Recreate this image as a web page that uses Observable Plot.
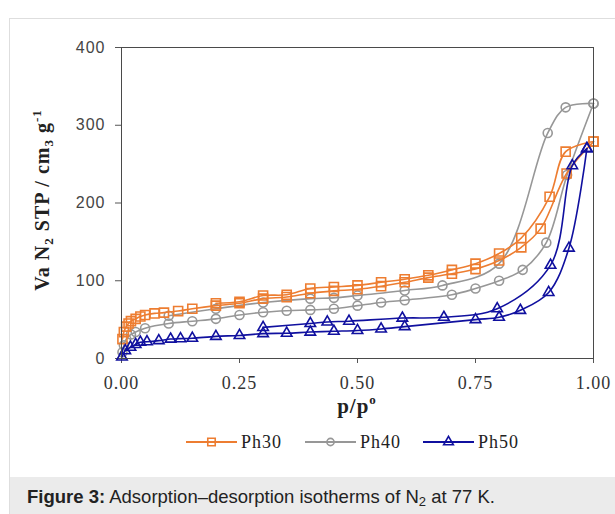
<!DOCTYPE html>
<html>
<head>
<meta charset="utf-8">
<script src="https://cdn.jsdelivr.net/npm/d3@7"></script>
<script src="https://cdn.jsdelivr.net/npm/@observablehq/plot@0.6"></script>
<style>
  html, body { margin: 0; padding: 0; background: #fff; }
  #wrap { position: relative; width: 615px; height: 514px; overflow: hidden; }
  #card { position: absolute; left: 9px; top: 18px; right: -2px; bottom: -2px; border-left: 1px solid #dedede; border-top: 1px solid #dedede; }
  #caption { position: absolute; left: 10px; top: 477px; width: 605px; height: 37px; background: #ebebeb; }
  #caption span.t { position: absolute; left: 17px; top: 9px; font-family: "Liberation Sans", Arial, sans-serif; font-size: 18.5px; color: #222; white-space: nowrap; }
  #chart { position: absolute; left: 0; top: 0; }
  .leg { position: absolute; top: 431px; height: 22px; display: flex; align-items: center; font-family: "Liberation Serif", serif; font-size: 18px; letter-spacing: 1px; color: #222; }
</style>
</head>
<body>
<div id="wrap">
  <div id="card"></div>
  <div id="chart"></div>
  <div id="legend"></div>
  <div id="caption"><span class="t"><b>Figure 3:</b> Adsorption–desorption isotherms of N<sub style="font-size:13px;vertical-align:-3px;line-height:0">2</sub> at 77 K.</span></div>
</div>
<script>
// ---- data ----
const seriesNames = ["Ph30", "Ph40", "Ph50"];
const xTicks = [0, 0.25, 0.5, 0.75, 1.0];
const yTicks = [0, 100, 200, 300, 400];

// Ph30 (squares)
const ph30AdsP = [0.002,0.005,0.01,0.015,0.02,0.03,0.04,0.05,0.07,0.09,0.12,0.15,0.2,0.25,0.3,0.35,0.4,0.45,0.5,0.55,0.6,0.65,0.7,0.75,0.8,0.847,0.888,0.943,1.0];
const ph30AdsV = [25,34,41,45,48,51,54,56,58,59,61,64,68,71,77,79,84,87,89,93,98,104,109,115,126,143,167,238,279];
const ph30DesP = [0.2,0.25,0.3,0.35,0.4,0.45,0.5,0.55,0.6,0.65,0.7,0.75,0.8,0.847,0.907,0.941,1.0];
const ph30DesV = [71,73,81,82,90,92,94,98,102,107,114,122,135,155,208,266,279];

// Ph40 (circles)
const ph40AdsP = [0.002,0.005,0.01,0.02,0.03,0.05,0.1,0.15,0.2,0.25,0.3,0.35,0.4,0.45,0.5,0.55,0.6,0.7,0.75,0.8,0.85,0.9,0.944,1.0];
const ph40AdsV = [8,17,25,31,34,39,45,48,51,56,59.5,61.5,62.5,64,68,72,75,82,90,100,114,149,236,328];
const ph40DesP = [0.1,0.2,0.3,0.4,0.45,0.5,0.6,0.68,0.8,0.903,0.941,1.0];
const ph40DesV = [55,64,72,77,78,81,87.5,94,122,290,323,328];

// Ph50 (triangles)
const ph50AdsP = [0.001,0.008,0.019,0.03,0.04,0.054,0.079,0.104,0.125,0.15,0.2,0.25,0.3,0.35,0.4,0.45,0.5,0.55,0.6,0.75,0.8,0.845,0.905,0.948,0.986];
const ph50AdsV = [2,10,14.5,18,21,21.5,23,25,25.5,26,28.5,29.6,32,32.5,34,35,36,38,41,50,53,62,85,142,270];
const ph50DesP = [0.3,0.4,0.436,0.482,0.595,0.683,0.796,0.909,0.955,0.986];
const ph50DesV = [40,45,47,48,52,53,64,120,248,270];

// ---- styles ----
const colors = {Ph30: "#ED7D31", Ph40: "#979797", Ph50: "#10109f"};
const symbols = {Ph30: "square", Ph40: "circle", Ph50: "triangle"};
const radii = {Ph30: 5.1, Ph40: 4.5, Ph50: 3.9};

const rows = (ps, vs) => ps.map((p, i) => ({p, v: vs[i]}));
const branches = {
  Ph30: [rows(ph30AdsP, ph30AdsV), rows(ph30DesP, ph30DesV)],
  Ph40: [rows(ph40AdsP, ph40AdsV), rows(ph40DesP, ph40DesV)],
  Ph50: [rows(ph50AdsP, ph50AdsV), rows(ph50DesP, ph50DesV)]
};

const drawOrder = ["Ph40", "Ph30", "Ph50"];
const dataMarks = [];
for (const s of drawOrder) {
  for (const b of branches[s]) {
    dataMarks.push(Plot.line(b, {x: "p", y: "v", stroke: colors[s], strokeWidth: 1.6, curve: "catmull-rom"}));
  }
  for (const b of branches[s]) {
    dataMarks.push(Plot.dot(b, {x: "p", y: "v", stroke: colors[s], fill: "none", strokeWidth: 1.6, symbol: symbols[s], r: radii[s]}));
  }
}

const chart = Plot.plot({
  width: 615,
  height: 420,
  marginLeft: 121,
  marginRight: 22,
  marginTop: 47,
  marginBottom: 62,
  style: {background: "transparent", overflow: "visible"},
  x: {domain: [0, 1]},
  y: {domain: [0, 400]},
  marks: [
    Plot.axisY({ticks: yTicks, tickSize: 6, tickPadding: 10, label: null, fontSize: 16, fontFamily: "Liberation Sans", fill: "#444", stroke: "#555"}),
    Plot.axisX({ticks: xTicks, tickFormat: d3.format(".2f"), tickSize: 5, tickPadding: 13, label: null, fontSize: 18, fontFamily: "Liberation Serif", fill: "#333", stroke: "#555"}),
    ...dataMarks,
    Plot.frame({stroke: "#4a4a4a", strokeWidth: 1})
  ]
});
document.getElementById("chart").appendChild(chart);

const svg = d3.select(chart);
svg.selectAll('g[aria-label="x-axis tick label"] text').attr("letter-spacing", 1);
svg.selectAll('g[aria-label="y-axis tick label"] text').attr("letter-spacing", 1);

// y-axis title with subscripts/superscript
const yl = svg.append("text")
  .attr("transform", "translate(49,200) rotate(-90)")
  .attr("text-anchor", "middle")
  .attr("font-family", "Liberation Serif")
  .attr("font-weight", "bold")
  .attr("font-size", 20)
  .attr("letter-spacing", 1)
  .attr("fill", "#222");
yl.append("tspan").text("Va N");
yl.append("tspan").attr("font-size", 13).attr("dy", 4).text("2");
yl.append("tspan").attr("dy", -4).text(" STP / cm");
yl.append("tspan").attr("font-size", 13).attr("dy", 4).text("3");
yl.append("tspan").attr("dy", -4).text(" g");
yl.append("tspan").attr("font-size", 13).attr("dy", -8).text("-1");

// x-axis title
const xl = svg.append("text")
  .attr("x", 357).attr("y", 413)
  .attr("text-anchor", "middle")
  .attr("font-family", "Liberation Serif")
  .attr("font-weight", "bold")
  .attr("font-size", 21)
  .attr("letter-spacing", 1)
  .attr("fill", "#222");
xl.append("tspan").text("p/p");
xl.append("tspan").attr("font-size", 13).attr("dy", -9).text("o");

// legend
const legLefts = {Ph30: 186, Ph40: 305, Ph50: 423};
const legend = d3.select("#legend");
for (const s of seriesNames) {
  const item = legend.append("div").attr("class", "leg").style("left", legLefts[s] + "px");
  const isvg = item.append("svg").attr("width", 51).attr("height", 22).style("overflow", "visible");
  isvg.append("line").attr("x1", 0).attr("x2", 51).attr("y1", 11).attr("y2", 11)
    .attr("stroke", colors[s]).attr("stroke-width", 2);
  const symType = {square: d3.symbolSquare, circle: d3.symbolCircle, triangle: d3.symbolTriangle}[symbols[s]];
  const rr = {Ph30: 4.2, Ph40: 3.6, Ph50: 3.6}[s];
  isvg.append("path")
    .attr("d", d3.symbol(symType, Math.PI * rr * rr)())
    .attr("transform", "translate(25.5,11)")
    .attr("fill", "none").attr("stroke", colors[s]).attr("stroke-width", 1.6);
  item.append("span").style("margin-left", "4px").text(s);
}
</script>
</body>
</html>
